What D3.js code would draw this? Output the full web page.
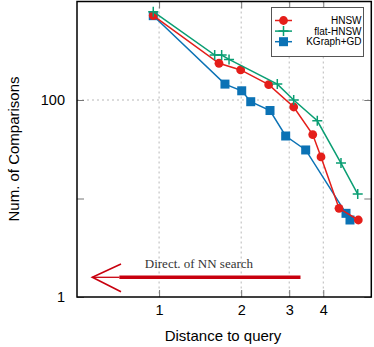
<!DOCTYPE html>
<html><head><meta charset="utf-8">
<script src="https://cdn.jsdelivr.net/npm/d3@7"></script>
<style>body{margin:0;background:#fff}svg{display:block}</style>
</head><body>
<svg id="c" width="374" height="347"></svg>
<script>
const seriesNames = ["HNSW", "flat-HNSW", "KGraph+GD"];
const hnswX = [0.952, 1.658, 1.991, 2.523, 3.116, 3.659, 3.924, 4.568, 5.377];
const hnswY = [720, 236, 202, 143, 84.9, 44.6, 26.4, 7.95, 6.05];
const flatX = [0.952, 1.599, 1.696, 1.805, 2.713, 3.116, 3.803, 4.645, 5.35];
const flatY = [788, 286, 286, 258, 145, 100, 61.5, 22.9, 11.1];
const kgX = [0.952, 1.744, 2.009, 2.168, 2.551, 2.912, 3.448, 4.846, 5.012];
const kgY = [718, 145, 124, 96.1, 78.2, 43.1, 31.1, 7.07, 6.05];
const xTicks = [1, 2, 3, 4];
const yTicks = [1, 10, 100];
const yTickLabels = ["1", "", "100"];
const yGrid = [100];
const arrowText = "Direct. of NN search";

const colors = ["#e41e1a", "#0a9e73", "#0b72b5"];
const svg = d3.select("#c");
const L = 77, R = 371.3, T = 1.5, B = 297;
const x = d3.scaleLog().domain([0.5, 6]).range([L, R]);
const y = d3.scaleLog().domain([1, 1000]).range([B, T]);

// grid
const g = svg.append("g");
g.selectAll(".gx").data(xTicks).join("line")
  .attr("x1", d => x(d)).attr("x2", d => x(d)).attr("y1", T).attr("y2", B)
  .attr("stroke", "#b8b8b8").attr("stroke-width", 1).attr("stroke-dasharray", "2,3");
g.selectAll(".gy").data(yGrid).join("line")
  .attr("x1", L).attr("x2", R).attr("y1", d => y(d)).attr("y2", d => y(d))
  .attr("stroke", "#b8b8b8").attr("stroke-width", 1).attr("stroke-dasharray", "2,3");

// axes
const fmtY = d => yTickLabels[yTicks.indexOf(d)];
const axB = d3.axisBottom(x).tickValues(xTicks).tickFormat(d3.format("d")).tickSizeInner(-7).tickSizeOuter(0).tickPadding(8);
const axT = d3.axisTop(x).tickValues(xTicks).tickFormat("").tickSizeInner(-7).tickSizeOuter(0);
const axL = d3.axisLeft(y).tickValues(yTicks).tickFormat(fmtY).tickSizeInner(-7).tickSizeOuter(0).tickPadding(12);
const axRt = d3.axisRight(y).tickValues(yTicks).tickFormat("").tickSizeInner(-7).tickSizeOuter(0);
function styleAx(sel){
  sel.select(".domain").remove();
  sel.selectAll(".tick line").attr("stroke", "#777").attr("stroke-width", 1);
  sel.selectAll(".tick text").attr("font-family", "Liberation Sans, Arial, sans-serif").attr("font-size", 14.5).attr("fill", "#000");
}
svg.append("g").attr("transform", `translate(0,${B})`).call(axB).call(styleAx);
svg.append("g").attr("transform", `translate(0,${T})`).call(axT).call(styleAx);
svg.append("g").attr("transform", `translate(${L},0)`).call(axL).call(styleAx);
svg.append("g").attr("transform", `translate(${R},0)`).call(axRt).call(styleAx);

// frame
svg.append("rect").attr("x", L).attr("y", T).attr("width", R - L).attr("height", B - T)
  .attr("fill", "none").attr("stroke", "#000").attr("stroke-width", 1.5);

// series
const data = [
  hnswX.map((v, i) => [v, hnswY[i]]),
  flatX.map((v, i) => [v, flatY[i]]),
  kgX.map((v, i) => [v, kgY[i]])
];
const line = d3.line().x(d => x(d[0])).y(d => y(d[1]));
function marker(sel, k, cx, cy){
  if (k === 0) sel.append("circle").attr("cx", cx).attr("cy", cy).attr("r", 4.4).attr("fill", colors[0]);
  else if (k === 1) sel.append("path").attr("d", `M${cx-5},${cy}H${cx+5}M${cx},${cy-5}V${cy+5}`).attr("stroke", colors[1]).attr("stroke-width", 1.5).attr("fill", "none");
  else sel.append("rect").attr("x", cx - 4.5).attr("y", cy - 4.5).attr("width", 9).attr("height", 9).attr("fill", colors[2]);
}
[2, 0, 1].forEach(k => {
  const s = svg.append("g");
  s.append("path").datum(data[k]).attr("d", line).attr("fill", "none").attr("stroke", colors[k]).attr("stroke-width", 1.5);
  data[k].forEach(d => marker(s, k, x(d[0]), y(d[1])));
});

// legend
const lg = svg.append("g");
lg.append("rect").attr("x", 271.5).attr("y", 7.5).attr("width", 92).attr("height", 49)
  .attr("fill", "#fff").attr("stroke", "#555").attr("stroke-width", 1);
seriesNames.forEach((n, k) => {
  const ly = 20.5 + k * 10.6;
  lg.append("line").attr("x1", 275).attr("x2", 292).attr("y1", ly).attr("y2", ly).attr("stroke", colors[k]).attr("stroke-width", 1.5);
  marker(lg, k, 283.5, ly);
  lg.append("text").attr("x", 361.5).attr("y", ly + 3.6).attr("text-anchor", "end")
    .attr("font-family", "Liberation Sans, Arial, sans-serif").attr("font-size", 10).text(n);
});

// arrow annotation
const ac = "#c8000e";
const tip = [0.569, 1.585], shaftStart = [0.715, 1.585], shaftEnd = [3.30, 1.585];
svg.append("line").attr("x1", x(tip[0])).attr("y1", y(tip[1])).attr("x2", x(shaftStart[0])).attr("y2", y(shaftStart[1]))
  .attr("stroke", ac).attr("stroke-width", 1.3);
svg.append("line").attr("x1", x(shaftStart[0])).attr("y1", y(shaftStart[1])).attr("x2", x(shaftEnd[0])).attr("y2", y(shaftEnd[1]))
  .attr("stroke", ac).attr("stroke-width", 3.5);
svg.append("path")
  .attr("d", `M${x(0.725)},${y(2.16)}L${x(tip[0])},${y(tip[1])}L${x(0.725)},${y(1.13)}`)
  .attr("fill", "none").attr("stroke", ac).attr("stroke-width", 1.6);
svg.append("text").attr("x", x(1.40)).attr("y", y(1.956)).attr("text-anchor", "middle")
  .attr("font-family", "Liberation Serif, Times New Roman, serif").attr("font-size", 13).attr("fill", "#333").text(arrowText);

// axis titles
svg.append("text").attr("x", 223).attr("y", 341).attr("text-anchor", "middle")
  .attr("font-family", "Liberation Sans, Arial, sans-serif").attr("font-size", 15).text("Distance to query");
svg.append("text").attr("transform", "translate(18.5,149) rotate(-90)").attr("text-anchor", "middle")
  .attr("font-family", "Liberation Sans, Arial, sans-serif").attr("font-size", 15).text("Num. of Comparisons");
</script>
</body></html>
